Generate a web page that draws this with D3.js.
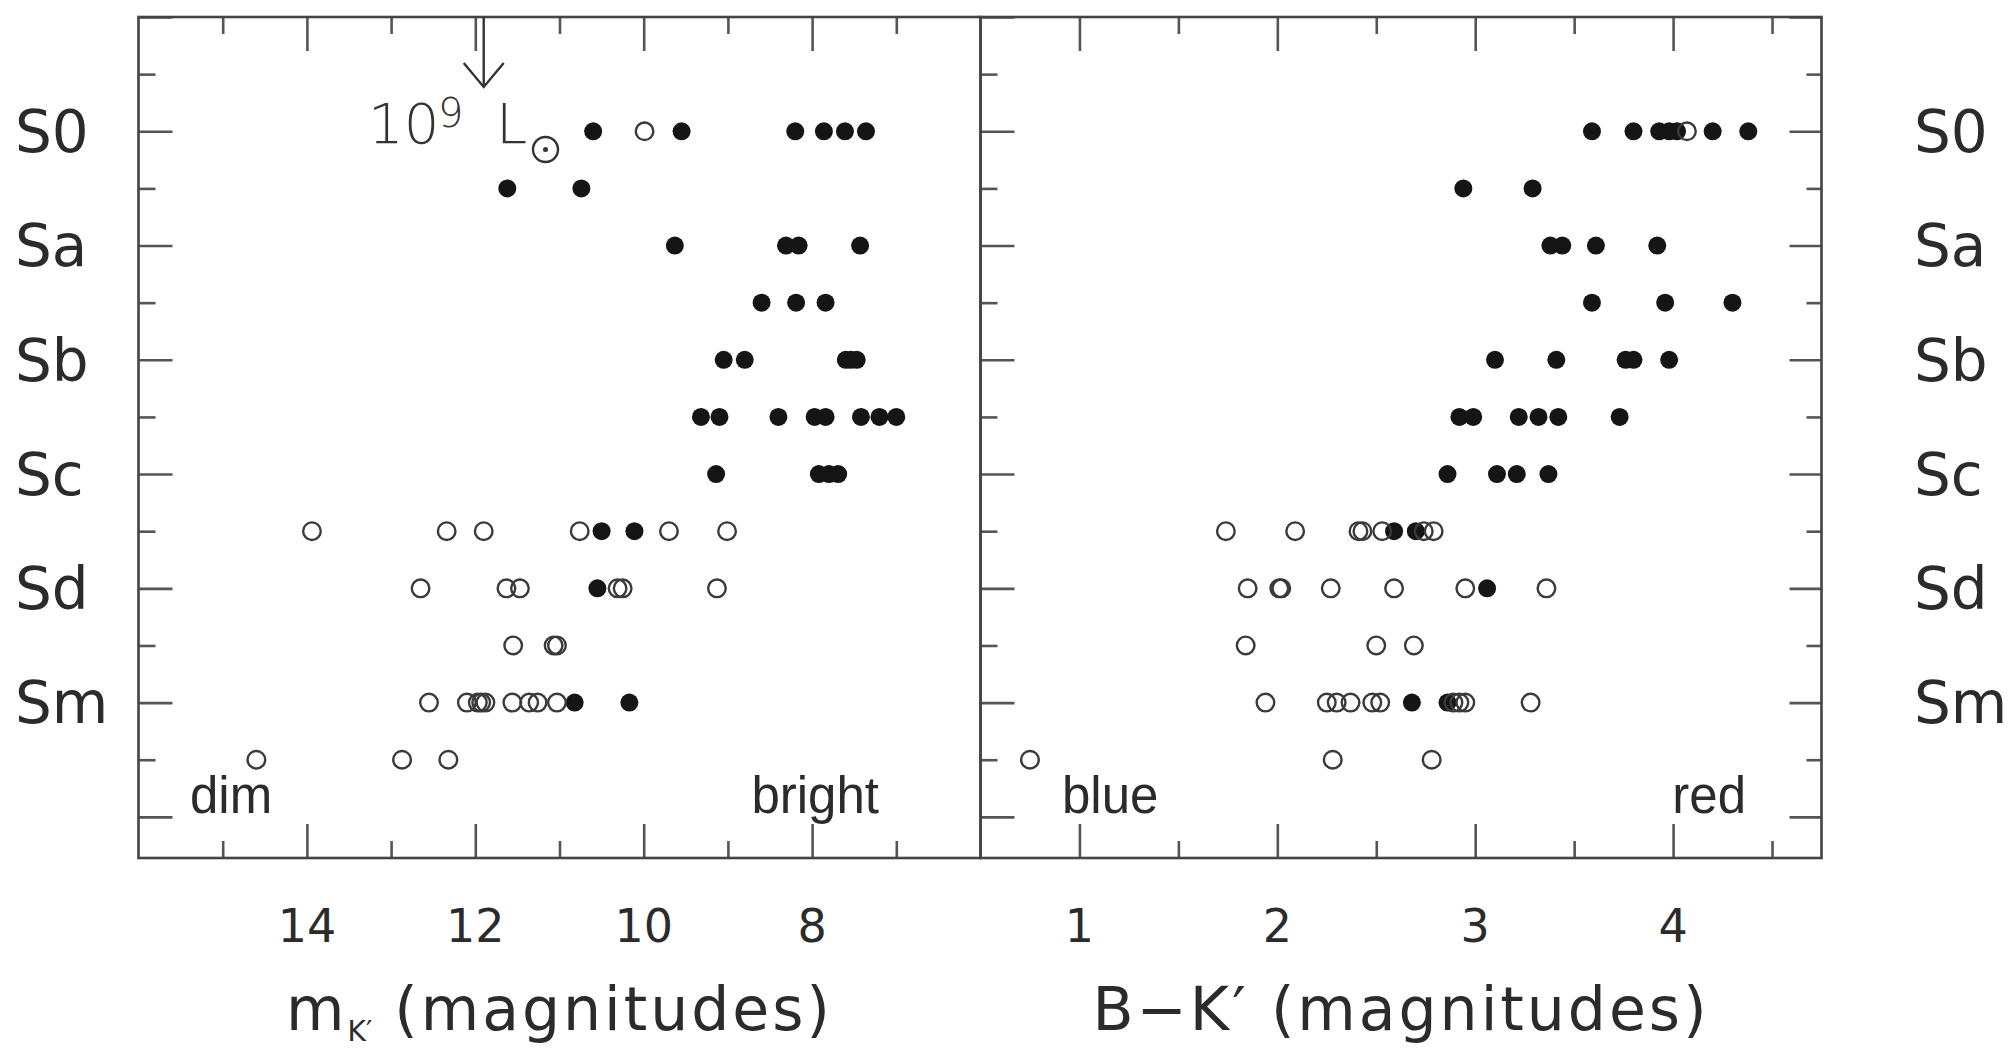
<!DOCTYPE html>
<html>
<head>
<meta charset="utf-8">
<script src="https://cdn.jsdelivr.net/npm/d3@7"></script>
<style>
  html, body { margin: 0; padding: 0; background: #fff; }
  svg { display: block; }
</style>
</head>
<body>
<div id="chart"></div>
<script>
// ---------------- data ----------------
const typeLabels = ["S0", "Sa", "Sb", "Sc", "Sd", "Sm"];
const typeValues = [-1, 1, 3, 5, 7, 9];
const yMajor = [-3, -1, 1, 3, 5, 7, 9, 11];
const yMinor = [-2, 0, 2, 4, 6, 8, 10];

const magTicks = [14, 12, 10, 8];
const magMinor = [15, 13, 11, 9, 7];
const colTicks = [1, 2, 3, 4];
const colMinor = [1.5, 2.5, 3.5, 4.5];

const rows = [-1, 0, 1, 2, 3, 4, 5, 6, 7, 8, 9, 10];

const magFilled = [
  [10.6, 9.55, 8.2, 7.86, 7.61, 7.36],
  [11.62, 10.74],
  [9.63, 8.31, 8.16, 7.43],
  [8.6, 8.19, 7.84],
  [9.05, 8.8, 7.6, 7.54, 7.47],
  [9.32, 9.1, 8.4, 7.97, 7.84, 7.42, 7.2, 7.0],
  [9.14, 7.92, 7.8, 7.69],
  [10.5, 10.11],
  [10.55],
  [],
  [10.82, 10.17],
  []
];
const magOpen = [
  [9.99], [], [], [], [], [], [],
  [13.94, 12.34, 11.9, 10.76, 9.7, 9.01],
  [12.65, 11.63, 11.47, 10.31, 10.25, 9.13],
  [11.55, 11.07, 11.03],
  [12.55, 12.1, 11.97, 11.93, 11.88, 11.56, 11.36, 11.26, 11.03],
  [14.6, 12.87, 12.32]
];
const colFilled = [
  [3.59, 3.80, 3.93, 3.98, 4.02, 4.2, 4.38],
  [2.94, 3.29],
  [3.38, 3.44, 3.61, 3.92],
  [3.59, 3.96, 4.30],
  [3.10, 3.41, 3.76, 3.80, 3.98],
  [2.92, 2.99, 3.22, 3.32, 3.42, 3.73],
  [2.86, 3.11, 3.21, 3.37],
  [2.59, 2.70],
  [3.06],
  [],
  [2.68, 2.86],
  []
];
const colOpen = [
  [4.07], [], [], [], [], [], [],
  [1.74, 2.09, 2.41, 2.43, 2.53, 2.74, 2.79],
  [1.85, 2.01, 2.02, 2.27, 2.59, 2.95, 3.36],
  [1.84, 2.50, 2.69],
  [1.94, 2.25, 2.30, 2.37, 2.48, 2.52, 2.89, 2.92, 2.95, 3.28],
  [0.75, 2.28, 2.78]
];
const lumMark = 11.9; // 10^9 Lsun arrow position (m_K')

// ---------------- layout ----------------
const W = 2014, H = 1048;
const yTop = 17, yBot = 858;
const L0 = 138.5, L1 = 980.5, R0 = 980.5, R1 = 1821.5;
const FONT = "'DejaVu Sans', sans-serif";
const TEXT = "#2b2b2b";
const LINE = "#555";

const svg = d3.select("#chart").append("svg")
  .attr("width", W).attr("height", H)
  .attr("viewBox", `0 0 ${W} ${H}`);

const xMag = d3.scaleLinear().domain([16, 6]).range([L0, L1]);
const xCol = d3.scaleLinear().domain([0.5, 4.75]).range([R0, R1]);
const y = d3.scaleLinear().domain([-3, 11.72]).range([yTop, yBot]);

function flat(valsArr) {
  const out = [];
  valsArr.forEach((vals, i) => vals.forEach(v => out.push({ t: rows[i], v })));
  return out;
}

function tickAxis(axisFn, scale, vals, len, tx, ty) {
  const g = svg.append("g").attr("transform", `translate(${tx},${ty})`)
    .call(axisFn(scale).tickValues(vals).tickSizeInner(-len).tickSizeOuter(0).tickFormat(""));
  g.select(".domain").remove();
  g.selectAll("text").remove();
  g.selectAll("line").attr("stroke", LINE).attr("stroke-width", 2.6);
}

// ticks: left panel
tickAxis(d3.axisBottom, xMag, magTicks, 34, 0, yBot);
tickAxis(d3.axisBottom, xMag, magMinor, 17, 0, yBot);
tickAxis(d3.axisTop, xMag, magTicks, 34, 0, yTop);
tickAxis(d3.axisTop, xMag, magMinor, 17, 0, yTop);
tickAxis(d3.axisLeft, y, yMajor, 34, L0, 0);
tickAxis(d3.axisLeft, y, yMinor, 17, L0, 0);
// ticks: right panel
tickAxis(d3.axisBottom, xCol, colTicks, 34, 0, yBot);
tickAxis(d3.axisBottom, xCol, colMinor, 17, 0, yBot);
tickAxis(d3.axisTop, xCol, colTicks, 34, 0, yTop);
tickAxis(d3.axisTop, xCol, colMinor, 17, 0, yTop);
tickAxis(d3.axisLeft, y, yMajor, 34, R0, 0);
tickAxis(d3.axisLeft, y, yMinor, 17, R0, 0);
tickAxis(d3.axisRight, y, yMajor, 32, R1, 0);
tickAxis(d3.axisRight, y, yMinor, 15, R1, 0);

// frames
[[L0, L1], [R0, R1]].forEach(([a, b]) => {
  svg.append("rect").attr("x", a).attr("y", yTop).attr("width", b - a).attr("height", yBot - yTop)
    .attr("fill", "none").attr("stroke", "#444").attr("stroke-width", 2.6);
});

// points
function drawPoints(scale, filled, open) {
  svg.append("g").selectAll("circle").data(flat(filled)).join("circle")
    .attr("cx", d => scale(d.v)).attr("cy", d => y(d.t)).attr("r", 9)
    .attr("fill", "#151515");
  svg.append("g").selectAll("circle").data(flat(open)).join("circle")
    .attr("cx", d => scale(d.v)).attr("cy", d => y(d.t)).attr("r", 8.8)
    .attr("fill", "none").attr("stroke", "#3a3a3a").attr("stroke-width", 2.4);
}
drawPoints(xMag, magFilled, magOpen);
drawPoints(xCol, colFilled, colOpen);

// y labels (left and far right)
svg.append("g").selectAll("text").data(typeLabels).join("text")
  .attr("x", 15).attr("y", (d, i) => y(typeValues[i]))
  .attr("dy", "0.36em").attr("font-family", FONT).attr("font-size", 58)
  .attr("fill", TEXT).text(d => d);
svg.append("g").selectAll("text").data(typeLabels).join("text")
  .attr("x", 1914).attr("y", (d, i) => y(typeValues[i]))
  .attr("dy", "0.36em").attr("font-family", FONT).attr("font-size", 58)
  .attr("fill", TEXT).text(d => d);

// x tick labels
svg.append("g").selectAll("text").data(magTicks).join("text")
  .attr("x", d => xMag(d)).attr("y", 942).attr("text-anchor", "middle")
  .attr("font-family", FONT).attr("font-size", 46).attr("fill", TEXT).text(d => d);
svg.append("g").selectAll("text").data(colTicks).join("text")
  .attr("x", d => xCol(d)).attr("y", 942).attr("text-anchor", "middle")
  .attr("font-family", FONT).attr("font-size", 46).attr("fill", TEXT).text(d => d);

// axis titles
const t1 = svg.append("text").attr("x", (L0 + L1) / 2).attr("y", 1030)
  .attr("text-anchor", "middle").attr("font-family", FONT).attr("font-size", 60)
  .attr("letter-spacing", 3).attr("fill", TEXT);
t1.append("tspan").text("m");
t1.append("tspan").attr("font-size", 28).attr("dy", 11).attr("letter-spacing", 0).text("K\u2032");
t1.append("tspan").attr("dy", -11).text("  (magnitudes)");

svg.append("text").attr("x", (R0 + R1) / 2).attr("y", 1030)
  .attr("text-anchor", "middle").attr("font-family", FONT).attr("font-size", 60)
  .attr("letter-spacing", 3).attr("fill", TEXT)
  .text("B\u2212K\u2032 (magnitudes)");

// corner words
const SANS = "'Liberation Sans', Arial, sans-serif";
svg.append("text").attr("x", 190).attr("y", 813).attr("font-family", SANS).attr("font-size", 51).attr("fill", TEXT).text("dim");
svg.append("text").attr("x", 879).attr("y", 813).attr("text-anchor", "end").attr("font-family", SANS).attr("font-size", 51).attr("fill", TEXT).text("bright");
svg.append("text").attr("x", 1062).attr("y", 813).attr("font-family", SANS).attr("font-size", 51).attr("fill", TEXT).text("blue");
svg.append("text").attr("x", 1746).attr("y", 813).attr("text-anchor", "end").attr("font-family", SANS).attr("font-size", 51).attr("fill", TEXT).text("red");

// 10^9 Lsun annotation
const ax = xMag(lumMark);
svg.append("line").attr("x1", ax).attr("x2", ax).attr("y1", yTop).attr("y2", 87)
  .attr("stroke", "#333").attr("stroke-width", 2.4);
svg.append("polyline").attr("points", `${ax - 20},63 ${ax},87 ${ax + 20},63`)
  .attr("fill", "none").attr("stroke", "#333").attr("stroke-width", 2.4);
svg.append("text").attr("x", 368).attr("y", 143).attr("font-family", FONT).attr("font-size", 56)
  .attr("fill", "#333").attr("font-weight", 300).text("10");
svg.append("text").attr("x", 438).attr("y", 127).attr("font-family", FONT).attr("font-size", 40)
  .attr("fill", "#333").attr("font-weight", 300).text("9");
svg.append("text").attr("x", 496).attr("y", 143).attr("font-family", FONT).attr("font-size", 56)
  .attr("fill", "#333").attr("font-weight", 300).text("L");
svg.append("circle").attr("cx", 545.5).attr("cy", 149.5).attr("r", 12.5)
  .attr("fill", "none").attr("stroke", "#333").attr("stroke-width", 2.4);
svg.append("circle").attr("cx", 545.5).attr("cy", 149.5).attr("r", 2.5).attr("fill", "#333");
</script>
</body>
</html>
